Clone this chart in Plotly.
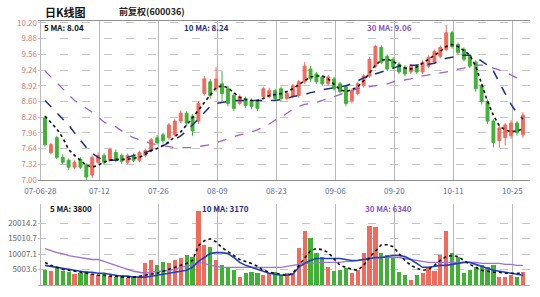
import plotly.graph_objects as go

# ---------------- data ----------------
date_labels = ["07-06-28", "07-12", "07-26", "08-09", "08-23", "09-06", "09-20", "10-11", "10-25"]
tick_every = 10
tick_offset = -0.8

open_ = [8.26, 7.56, 7.86, 7.46, 7.40, 7.26, 7.42, 7.30, 7.10, 7.36,
         7.50, 7.40, 7.56, 7.50, 7.36, 7.50, 7.40, 7.50, 7.60, 7.86,
         7.92, 7.86, 7.92, 8.20, 8.36, 8.30, 8.20, 8.76, 9.00, 8.86,
         8.96, 8.86, 8.72, 8.56, 8.66, 8.62, 8.60, 8.70, 8.70, 8.82,
         8.86, 8.66, 8.70, 8.72, 9.00, 9.26, 9.16, 9.10, 8.96, 9.06,
         8.96, 8.90, 8.62, 8.76, 8.92, 9.12, 9.32, 9.70, 9.52, 9.46,
         9.36, 9.30, 9.20, 9.32, 9.20, 9.32, 9.40, 9.52, 9.66, 10.00,
         9.76, 9.66, 9.52, 9.40, 8.92, 8.60, 8.20, 7.80, 7.86, 7.90,
         8.16, 7.92]
close = [7.72, 7.72, 7.46, 7.36, 7.26, 7.36, 7.26, 7.06, 7.46, 7.50,
         7.36, 7.62, 7.40, 7.38, 7.50, 7.40, 7.56, 7.60, 7.82, 7.76,
         7.80, 8.12, 8.20, 8.36, 8.16, 8.00, 8.56, 9.06, 8.72, 9.06,
         8.76, 8.56, 8.46, 8.70, 8.52, 8.50, 8.46, 8.86, 8.82, 8.66,
         8.66, 8.76, 8.92, 9.00, 9.32, 9.06, 9.00, 8.96, 9.10, 8.86,
         8.80, 8.56, 8.82, 8.96, 9.12, 9.46, 9.72, 9.40, 9.26, 9.30,
         9.20, 9.16, 9.32, 9.20, 9.40, 9.50, 9.62, 9.70, 10.00, 9.72,
         9.60, 9.46, 9.32, 8.86, 8.60, 8.20, 7.76, 8.06, 8.12, 8.16,
         7.96, 8.32]
high = [8.30, 7.76, 7.90, 7.52, 7.44, 7.40, 7.46, 7.34, 7.50, 7.56,
        7.54, 7.66, 7.62, 7.54, 7.54, 7.54, 7.60, 7.64, 7.86, 7.92,
        7.96, 8.16, 8.24, 8.42, 8.40, 8.34, 8.60, 9.12, 9.06, 9.30,
        9.22, 8.92, 8.78, 8.74, 8.70, 8.66, 8.64, 8.90, 8.88, 8.86,
        8.90, 8.80, 8.96, 9.04, 9.40, 9.32, 9.20, 9.14, 9.14, 9.10,
        9.00, 8.94, 8.86, 9.00, 9.16, 9.50, 9.76, 9.74, 9.56, 9.50,
        9.40, 9.34, 9.36, 9.36, 9.44, 9.54, 9.66, 9.74, 10.16, 10.04,
        9.80, 9.70, 9.56, 9.44, 8.96, 8.64, 8.24, 8.12, 8.16, 8.22,
        8.20, 8.38]
low = [7.68, 7.52, 7.42, 7.32, 7.20, 7.22, 7.22, 7.00, 7.04, 7.32,
       7.30, 7.36, 7.36, 7.32, 7.32, 7.36, 7.36, 7.46, 7.56, 7.72,
       7.74, 7.82, 7.88, 8.16, 8.10, 7.90, 8.14, 8.72, 8.66, 8.80,
       8.60, 8.50, 8.40, 8.52, 8.46, 8.44, 8.40, 8.66, 8.66, 8.62,
       8.60, 8.62, 8.66, 8.68, 8.96, 9.00, 8.96, 8.92, 8.92, 8.82,
       8.76, 8.50, 8.56, 8.72, 8.88, 9.08, 9.28, 9.36, 9.22, 9.26,
       9.16, 9.12, 9.16, 9.16, 9.16, 9.28, 9.36, 9.48, 9.62, 9.68,
       9.56, 9.42, 9.28, 8.80, 8.54, 8.14, 7.66, 7.66, 7.70, 7.84,
       7.90, 7.86]

ma5 = [8.30, 8.18, 8.04, 7.86, 7.62, 7.50, 7.40, 7.30, 7.26, 7.30,
       7.36, 7.40, 7.42, 7.42, 7.42, 7.44, 7.46, 7.52, 7.60, 7.64,
       7.70, 7.78, 7.88, 7.98, 8.12, 8.26, 8.42, 8.58, 8.74, 8.88,
       8.92, 8.88, 8.78, 8.68, 8.64, 8.62, 8.62, 8.66, 8.72, 8.74,
       8.76, 8.80, 8.86, 8.94, 9.02, 9.10, 9.12, 9.12, 9.06, 8.94,
       8.84, 8.80, 8.84, 8.90, 9.02, 9.18, 9.34, 9.44, 9.46, 9.42,
       9.34, 9.28, 9.26, 9.30, 9.38, 9.46, 9.54, 9.62, 9.72, 9.76,
       9.72, 9.64, 9.54, 9.32, 8.96, 8.60, 8.32, 8.10, 8.02, 7.98,
       8.00, 8.04]
ma10 = [8.62, 8.50, 8.38, 8.26, 8.12, 7.96, 7.80, 7.66, 7.54, 7.46,
        7.40, 7.40, 7.40, 7.42, 7.46, 7.50, 7.52, 7.56, 7.60, 7.64,
        7.70, 7.76, 7.82, 7.90, 8.00, 8.12, 8.24, 8.38, 8.50, 8.56,
        8.58, 8.60, 8.62, 8.62, 8.62, 8.62, 8.62, 8.62, 8.62, 8.62,
        8.64, 8.66, 8.70, 8.72, 8.74, 8.78, 8.80, 8.84, 8.86, 8.88,
        8.90, 8.92, 8.96, 9.02, 9.08, 9.12, 9.16, 9.20, 9.24, 9.28,
        9.32, 9.32, 9.34, 9.34, 9.36, 9.36, 9.38, 9.44, 9.48, 9.50,
        9.52, 9.54, 9.54, 9.50, 9.42, 9.34, 9.22, 8.98, 8.76, 8.54,
        8.36, 8.24]
ma30 = [9.22, 9.10, 8.98, 8.86, 8.74, 8.62, 8.54, 8.46, 8.38, 8.28,
        8.18, 8.12, 8.08, 8.00, 7.92, 7.86, 7.82, 7.78, 7.74, 7.72,
        7.70, 7.68, 7.66, 7.66, 7.66, 7.66, 7.68, 7.70, 7.72, 7.76,
        7.80, 7.84, 7.88, 7.92, 7.94, 7.98, 8.02, 8.08, 8.14, 8.22,
        8.28, 8.36, 8.44, 8.50, 8.54, 8.56, 8.58, 8.62, 8.66, 8.70,
        8.74, 8.78, 8.82, 8.86, 8.88, 8.90, 8.92, 8.94, 8.96, 9.00,
        9.02, 9.04, 9.06, 9.10, 9.12, 9.14, 9.16, 9.18, 9.20, 9.22,
        9.26, 9.28, 9.32, 9.34, 9.34, 9.32, 9.28, 9.24, 9.20, 9.14,
        9.08, 9.06]

volume = [4750, 4440, 5390, 4440, 4120, 3490, 3800, 4440, 3490, 3170,
          3490, 2850, 2540, 3170, 2220, 2850, 2540, 6970, 7930, 6340,
          7290, 6970, 7930, 8560, 9510, 8880, 23800, 12700, 12050, 7930,
          6340, 5390, 4750, 2540, 3800, 4120, 3800, 3170, 3800, 4120,
          3170, 3800, 3800, 11700, 17400, 14900, 10100, 8880, 5700, 4440,
          4750, 5390, 3800, 4750, 10100, 19000, 18700, 10100, 9510, 8560,
          4120, 3170, 1590, 3170, 3800, 5390, 4440, 9510, 17400, 10100,
          8880, 3800, 4750, 5700, 6340, 5700, 6340, 2540, 2540, 3170,
          2540, 4120]
vma5 = [7290, 6340, 5710, 5070, 4760, 4440, 4120, 3800, 3490, 3170,
        3170, 2850, 2850, 2540, 2540, 2540, 2850, 3170, 3490, 3800,
        4440, 5070, 5710, 6340, 6970, 7930, 12680, 14270, 14900, 13950,
        12050, 10780, 9510, 8240, 7610, 6970, 6020, 4760, 4120, 3800,
        3490, 3170, 3800, 6340, 8880, 11100, 11730, 11410, 10460, 8240,
        6340, 5710, 5070, 4760, 6340, 8880, 11100, 13000, 13000, 12360,
        10140, 7930, 6340, 5390, 4760, 5070, 6340, 7930, 9190, 9510,
        9190, 7930, 6660, 5710, 4760, 4440, 4120, 4120, 3800, 3800,
        3800, 3800]
vma10 = [6340, 6020, 5710, 5390, 5070, 4760, 4440, 4120, 4120, 3800,
         3800, 3490, 3170, 2850, 2850, 2540, 2540, 2540, 2850, 3170,
         3490, 3800, 4120, 4440, 4760, 5710, 7610, 8880, 10140, 10460,
         10460, 10140, 8880, 7290, 6340, 5710, 5070, 4440, 3800, 3490,
         3170, 3170, 3490, 5710, 6970, 7930, 8560, 8560, 8560, 8560,
         8560, 8240, 7930, 7930, 8240, 8560, 8880, 8880, 9190, 9510,
         9510, 9190, 8240, 6970, 5710, 5710, 6020, 6340, 6340, 6660,
         6970, 7290, 7290, 6660, 6020, 5390, 4760, 4440, 4120, 3800,
         3490, 3170]
vma30 = [11730, 11100, 10460, 10140, 9510, 9190, 8880, 8560, 8240, 8240,
         7610, 6970, 6340, 5710, 5070, 4440, 4120, 3800, 4120, 4440,
         4440, 4760, 5070, 5710, 6020, 6660, 7290, 6970, 6340, 6020,
         5710, 5710, 5710, 5710, 5710, 5710, 5710, 5710, 5710, 5710,
         5710, 6020, 6340, 6660, 6970, 6970, 6970, 7290, 7290, 7290,
         7290, 7610, 7610, 7930, 8240, 8560, 8560, 8880, 8880, 8880,
         8880, 8560, 8240, 7930, 7610, 7290, 7290, 7290, 7290, 7290,
         7290, 7290, 7290, 7290, 6970, 6970, 6970, 6970, 6660, 6660,
         6340, 6340]

price_ticks = [7.00, 7.32, 7.64, 7.96, 8.28, 8.60, 8.92, 9.24, 9.56, 9.88, 10.20]
volume_ticks = [5003.6, 10007.1, 15010.7, 20014.2]

title_main = "日K线图"
title_sub = "前复权(600036)"

# ---------------- figure ----------------
n = len(close)
xs = list(range(n))
RED = "#f26a5c"
GREEN = "#3fb236"
vol_colors = [RED if c >= o else GREEN for o, c in zip(open_, close)]
tickvals = [tick_offset + tick_every * k for k in range(len(date_labels))]

fig = go.Figure()
fig.add_trace(go.Candlestick(
    x=xs, open=open_, high=high, low=low, close=close,
    increasing=dict(line=dict(color=RED, width=1), fillcolor=RED),
    decreasing=dict(line=dict(color=GREEN, width=1), fillcolor=GREEN),
    whiskerwidth=0, xaxis="x", yaxis="y", showlegend=False))
fig.add_trace(go.Scatter(x=xs, y=ma30, mode="lines", line=dict(color="#9b62c8", width=1.3, dash="dash"),
                         xaxis="x", yaxis="y", showlegend=False))
fig.add_trace(go.Scatter(x=xs, y=ma10, mode="lines", line=dict(color="#1c2e8c", width=1.5, dash="dash"),
                         xaxis="x", yaxis="y", showlegend=False))
fig.add_trace(go.Scatter(x=xs, y=ma5, mode="lines", line=dict(color="#111111", width=1.6, dash="dot"),
                         xaxis="x", yaxis="y", showlegend=False))

fig.add_trace(go.Bar(x=xs, y=volume, marker=dict(color=vol_colors, line=dict(width=0)), width=0.72,
                     xaxis="x2", yaxis="y2", showlegend=False))
fig.add_trace(go.Scatter(x=xs, y=vma30, mode="lines", line=dict(color="#a070d8", width=1.3),
                         xaxis="x2", yaxis="y2", showlegend=False))
fig.add_trace(go.Scatter(x=xs, y=vma10, mode="lines", line=dict(color="#2040c0", width=1.6),
                         xaxis="x2", yaxis="y2", showlegend=False))
fig.add_trace(go.Scatter(x=xs, y=vma5, mode="lines", line=dict(color="#111111", width=1.6, dash="dot"),
                         xaxis="x2", yaxis="y2", showlegend=False))

xr = [-1.19, 82.2]
FONT = "Noto Sans CJK SC, Noto Sans, sans-serif"
fig.update_layout(
    width=540, height=297,
    margin=dict(l=38, r=10, t=21, b=7),
    paper_bgcolor="white", plot_bgcolor="white",
    font=dict(family=FONT, size=8, color="#444"),
    bargap=0,
    hovermode=False,
    xaxis=dict(domain=[0, 1], anchor="y", range=xr, rangeslider=dict(visible=False),
               tickmode="array", tickvals=tickvals, ticktext=date_labels,
               tickfont=dict(color="#5a6fa0", size=8), ticks="", ticklen=0, ticklabelstandoff=3,
               showgrid=True, gridcolor="#b8b8b8", gridwidth=1,
               showline=True, linecolor="#909090", linewidth=1, mirror=True, zeroline=False),
    yaxis=dict(domain=[0.398, 1], anchor="x", range=[7.00, 10.24],
               tickmode="array", tickvals=price_ticks, ticktext=[f"{v:.2f}" for v in price_ticks],
               tickfont=dict(color="#d97a7a", size=8),
               showgrid=True, gridcolor="#c4c4c4", griddash="8px,14px", zeroline=False),
    xaxis2=dict(domain=[0, 1], anchor="y2", range=xr, matches="x",
                tickmode="array", tickvals=tickvals, showticklabels=False,
                showgrid=True, gridcolor="#b8b8b8", zeroline=False,
                showline=True, linecolor="#b0b0b0"),
    yaxis2=dict(domain=[0, 0.305], anchor="x2", range=[0, 26000],
                tickmode="array", tickvals=volume_ticks, ticktext=[f"{v:.1f}" for v in volume_ticks],
                tickfont=dict(color="#666", size=8),
                showgrid=True, gridcolor="#c4c4c4", griddash="8px,14px", zeroline=False),
)

ann = [
    dict(text="<b>" + title_main + "</b>", x=0.01, y=1.035, font=dict(size=11, color="#111")),
    dict(text="<b>" + title_sub + "</b>", x=0.16, y=1.035, font=dict(size=9, color="#222")),
    dict(text=f"<b>5 MA: {ma5[-1]:.2f}</b>", x=0.008, y=0.975, font=dict(size=8, color="#111")),
    dict(text=f"<b>10 MA: {ma10[-1]:.2f}</b>", x=0.293, y=0.975, font=dict(size=8, color="#1c2e8c")),
    dict(text=f"<b>30 MA: {ma30[-1]:.2f}</b>", x=0.665, y=0.975, font=dict(size=8, color="#8a55c0")),
    dict(text=f"<b>5 MA: {vma5[-1]}</b>", x=0.02, y=0.288, font=dict(size=8, color="#111")),
    dict(text=f"<b>10 MA: {vma10[-1]}</b>", x=0.33, y=0.288, font=dict(size=8, color="#1c2e8c")),
    dict(text=f"<b>30 MA: {vma30[-1]}</b>", x=0.66, y=0.288, font=dict(size=8, color="#8a55c0")),
]
for a in ann:
    fig.add_annotation(xref="paper", yref="paper", xanchor="left", yanchor="middle",
                       showarrow=False, **a)

fig.write_html("out.html", config={"displayModeBar": False},
               post_script="document.body.style.margin='0px';")
